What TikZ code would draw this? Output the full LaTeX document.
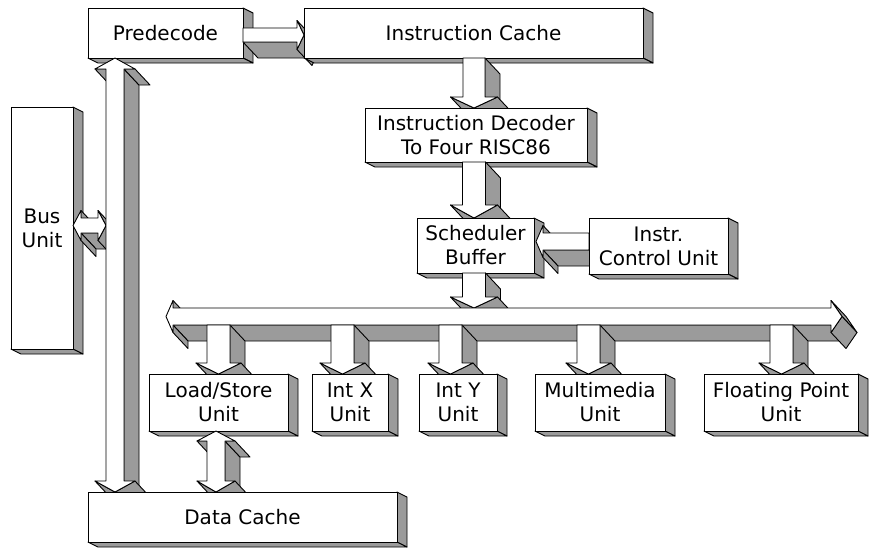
\documentclass[tikz,border=0pt]{standalone}
\usepackage{fontspec}
\setmainfont{DejaVu Sans}
\definecolor{shade}{RGB}{155,155,155}
\tikzset{
  face/.style={fill=shade, draw=black, line width=0.9pt, line join=round},
  frontface/.style={fill=white, draw=black, line width=0.9pt, line join=round},
  blocklabel/.style={font=\fontsize{20}{24}\selectfont, align=center, text=black,
    inner sep=0pt, outer sep=0pt},
}
% depth offset of the block arrows
\newcommand\ax{15}
\newcommand\ay{16}

% 3-D block: name, left, top, right, bottom, label
\newcommand\BlockThreeD[6]{%
  \path[face] (#4,#3) -- (#4+10,#3+5) -- (#4+10,#5+5) -- (#4,#5) -- cycle;
  \path[face] (#2,#5) -- (#4,#5) -- (#4+10,#5+5) -- (#2+10,#5+5) -- cycle;
  \node[frontface, blocklabel, anchor=north west,
    minimum width={(#4-#2)*1pt}, minimum height={(#5-#3)*1pt}] (#1) at (#2,#3) {#6};
}

% downward block arrow: cx, top, tip, half shaft, half head, head length
\newcommand\ArrowDown[6]{%
  \pgfmathsetmacro\sl{#1-#4}\pgfmathsetmacro\sr{#1+#4}%
  \pgfmathsetmacro\wl{#1-#5}\pgfmathsetmacro\wr{#1+#5}%
  \pgfmathsetmacro\yh{#3-#6}%
  \path[face] (\sr,#2) -- (\sr,\yh) -- (\sr+\ax,\yh+\ay) -- (\sr+\ax,#2+\ay) -- cycle;
  \path[face] (#1,#3) -- (\wl,\yh) -- (\wl+\ax,\yh+\ay) -- (#1+\ax,#3+\ay) -- cycle;
  \path[face] (\wr,\yh) -- (#1,#3) -- (#1+\ax,#3+\ay) -- (\wr+\ax,\yh+\ay) -- cycle;
  \path[frontface] (\sl,#2) -- (\sr,#2) -- (\sr,\yh) -- (\wr,\yh) -- (#1,#3)
    -- (\wl,\yh) -- (\sl,\yh) -- cycle;
}

% rightward block arrow: start x, tip x, cy, half shaft, half head, head length
\newcommand\ArrowRight[6]{%
  \pgfmathsetmacro\st{#3-#4}\pgfmathsetmacro\sb{#3+#4}%
  \pgfmathsetmacro\wt{#3-#5}\pgfmathsetmacro\wb{#3+#5}%
  \pgfmathsetmacro\xh{#2-#6}%
  \path[face] (#1,\sb) -- (\xh,\sb) -- (\xh+\ax,\sb+\ay) -- (#1+\ax,\sb+\ay) -- cycle;
  \path[face] (\xh,\wt) -- (#2,#3) -- (#2+\ax,#3+\ay) -- (\xh+\ax,\wt+\ay) -- cycle;
  \path[face] (#2,#3) -- (\xh,\wb) -- (\xh+\ax,\wb+\ay) -- (#2+\ax,#3+\ay) -- cycle;
  \path[frontface] (#1,\st) -- (\xh,\st) -- (\xh,\wt) -- (#2,#3) -- (\xh,\wb)
    -- (\xh,\sb) -- (#1,\sb) -- cycle;
}

% leftward block arrow: start x (right), tip x (left), cy, half shaft, half head, head length
\newcommand\ArrowLeft[6]{%
  \pgfmathsetmacro\st{#3-#4}\pgfmathsetmacro\sb{#3+#4}%
  \pgfmathsetmacro\wt{#3-#5}\pgfmathsetmacro\wb{#3+#5}%
  \pgfmathsetmacro\xh{#2+#6}%
  \path[face] (\xh,\wt) -- (\xh,\st) -- (\xh+\ax,\st+\ay) -- (\xh+\ax,\wt+\ay) -- cycle;
  \path[face] (\xh,\sb) -- (#1,\sb) -- (#1+\ax,\sb+\ay) -- (\xh+\ax,\sb+\ay) -- cycle;
  \path[face] (\xh,\sb) -- (\xh,\wb) -- (\xh+\ax,\wb+\ay) -- (\xh+\ax,\sb+\ay) -- cycle;
  \path[frontface] (#1,\st) -- (\xh,\st) -- (\xh,\wt) -- (#2,#3) -- (\xh,\wb)
    -- (\xh,\sb) -- (#1,\sb) -- cycle;
}

% horizontal double block arrow: left tip, right tip, cy, half shaft, half head, left head, right head
\newcommand\ArrowHoriz[7]{%
  \pgfmathsetmacro\st{#3-#4}\pgfmathsetmacro\sb{#3+#4}%
  \pgfmathsetmacro\wt{#3-#5}\pgfmathsetmacro\wb{#3+#5}%
  \pgfmathsetmacro\xl{#1+#6}\pgfmathsetmacro\xr{#2-#7}%
  \path[face] (\xl,\wt) -- (\xl,\st) -- (\xl+\ax,\st+\ay) -- (\xl+\ax,\wt+\ay) -- cycle;
  \path[face] (\xl,\sb) -- (\xr,\sb) -- (\xr+\ax,\sb+\ay) -- (\xl+\ax,\sb+\ay) -- cycle;
  \path[face] (\xl,\sb) -- (\xl,\wb) -- (\xl+\ax,\wb+\ay) -- (\xl+\ax,\sb+\ay) -- cycle;
  \path[face] (\xr,\wt) -- (#2,#3) -- (#2+\ax,#3+\ay) -- (\xr+\ax,\wt+\ay) -- cycle;
  \path[face] (#2,#3) -- (\xr,\wb) -- (\xr+\ax,\wb+\ay) -- (#2+\ax,#3+\ay) -- cycle;
  \path[frontface] (#1,#3) -- (\xl,\wt) -- (\xl,\st) -- (\xr,\st) -- (\xr,\wt) -- (#2,#3)
    -- (\xr,\wb) -- (\xr,\sb) -- (\xl,\sb) -- (\xl,\wb) -- cycle;
}

% vertical double block arrow: cx, top tip, bottom tip, half shaft, half head, top head, bottom head
\newcommand\ArrowVert[7]{%
  \pgfmathsetmacro\sl{#1-#4}\pgfmathsetmacro\sr{#1+#4}%
  \pgfmathsetmacro\wl{#1-#5}\pgfmathsetmacro\wr{#1+#5}%
  \pgfmathsetmacro\yt{#2+#6}\pgfmathsetmacro\yb{#3-#7}%
  \path[face] (\wl,\yt) -- (\sl,\yt) -- (\sl+\ax,\yt+\ay) -- (\wl+\ax,\yt+\ay) -- cycle;
  \path[face] (\sr,\yt) -- (\sr,\yb) -- (\sr+\ax,\yb+\ay) -- (\sr+\ax,\yt+\ay) -- cycle;
  \path[face] (\sr,\yt) -- (\wr,\yt) -- (\wr+\ax,\yt+\ay) -- (\sr+\ax,\yt+\ay) -- cycle;
  \path[face] (#1,#3) -- (\wl,\yb) -- (\wl+\ax,\yb+\ay) -- (#1+\ax,#3+\ay) -- cycle;
  \path[face] (\wr,\yb) -- (#1,#3) -- (#1+\ax,#3+\ay) -- (\wr+\ax,\yb+\ay) -- cycle;
  \path[frontface] (#1,#2) -- (\wr,\yt) -- (\sr,\yt) -- (\sr,\yb) -- (\wr,\yb) -- (#1,#3)
    -- (\wl,\yb) -- (\sl,\yb) -- (\sl,\yt) -- (\wl,\yt) -- cycle;
}

\begin{document}
\begin{tikzpicture}[x=1pt, y=-1pt]
  \useasboundingbox (0,0) rectangle (869,547);

  % front end
  \BlockThreeD{pre}{88}{8}{243}{58}{Predecode}
  \BlockThreeD{busunit}{11}{107}{73}{349}{Bus\\Unit}
  \ArrowRight{243}{304}{35}{7}{14.5}{7}
  \BlockThreeD{icache}{304}{8}{643}{58}{Instruction Cache}
  \ArrowDown{474}{58}{108}{11}{23.5}{11}
  \BlockThreeD{decoder}{365}{108}{587}{162}{Instruction Decoder\\To Four RISC86}
  \ArrowDown{474}{162}{218}{11.5}{23.5}{13}
  \BlockThreeD{sched}{417}{218}{534}{273}{Scheduler\\Buffer}
  \ArrowLeft{589}{536}{241.5}{8.5}{16}{7}
  \BlockThreeD{icu}{589}{218}{728}{274}{Instr.\\Control Unit}

  % result bus
  \ArrowDown{474}{273}{308}{11.5}{23.5}{11}
  \ArrowHoriz{166}{842}{316.5}{8.5}{16}{7}{11}

  % execution units
  \ArrowDown{218.5}{325}{374}{11.5}{22.5}{11}
  \ArrowDown{342.5}{325}{374}{11.5}{22.5}{11}
  \ArrowDown{450.5}{325}{374}{11.5}{22.5}{11}
  \ArrowDown{588.5}{325}{374}{11.5}{22.5}{11}
  \ArrowDown{781.5}{325}{374}{11.5}{22.5}{11}
  \BlockThreeD{lsu}{149}{374}{288}{431}{Load/Store\\Unit}
  \BlockThreeD{intx}{312}{374}{388}{431}{Int X\\Unit}
  \BlockThreeD{inty}{419}{374}{497}{431}{Int Y\\Unit}
  \BlockThreeD{mmu}{535}{374}{665}{431}{Multimedia\\Unit}
  \BlockThreeD{fpu}{704}{374}{858}{431}{Floating Point\\Unit}

  % memory side
  \ArrowHoriz{73}{106}{225.5}{7.5}{15}{8}{8}
  \ArrowVert{115}{58}{492}{9}{20}{11}{11}
  \ArrowVert{216}{431}{492}{9}{19}{10}{11}
  \BlockThreeD{dcache}{88}{492}{397}{542}{Data Cache}
\end{tikzpicture}
\end{document}
